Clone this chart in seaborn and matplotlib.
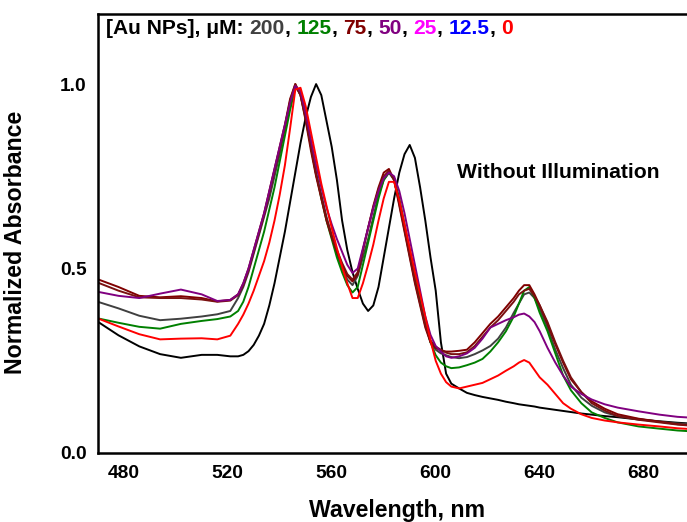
import numpy as np
import pandas as pd
import matplotlib
matplotlib.use("Agg")
import matplotlib.pyplot as plt
import seaborn as sns
from matplotlib.ticker import MultipleLocator, FormatStrFormatter
from matplotlib.offsetbox import TextArea, HPacker, AnchoredOffsetbox

# ---------------- data ----------------
wavelength = [470, 478, 486, 494, 502, 510, 516, 521, 524,
              526, 528, 530, 532, 534, 536, 538, 540, 542, 544,
              546, 548, 550, 552, 554, 556, 558, 560, 562, 564,
              566, 568, 570, 572, 574, 576, 578, 580, 582, 584,
              586, 588, 590, 592, 594, 596, 598, 600, 602, 604, 606,
              609, 612, 615, 618, 621, 624, 627, 630, 632, 634,
              636, 638, 640, 643, 646, 649, 652, 656, 660, 665,
              670, 678, 686, 693, 700]

abs_no_np = [0.356, 0.319, 0.289, 0.268, 0.258, 0.266, 0.266, 0.262, 0.262,
             0.266, 0.276, 0.293, 0.318, 0.35, 0.40, 0.46, 0.53, 0.60, 0.68,
             0.76, 0.84, 0.91, 0.965, 1.0, 0.97, 0.90, 0.83, 0.74, 0.63,
             0.55, 0.49, 0.445, 0.405, 0.385, 0.40, 0.45, 0.53, 0.61, 0.69,
             0.76, 0.81, 0.835, 0.80, 0.72, 0.63, 0.53, 0.44, 0.30, 0.215, 0.188,
             0.175, 0.163, 0.157, 0.152, 0.148, 0.144, 0.139, 0.135, 0.132, 0.130,
             0.128, 0.126, 0.123, 0.120, 0.117, 0.114, 0.111, 0.107, 0.104, 0.100,
             0.097, 0.091, 0.086, 0.082, 0.079]

abs_200 = [0.410, 0.392, 0.372, 0.360, 0.364, 0.370, 0.376, 0.385, 0.42,
           0.45, 0.49, 0.54, 0.59, 0.64, 0.69, 0.75, 0.81, 0.88, 0.95,
           0.995, 0.97, 0.91, 0.83, 0.755, 0.70, 0.64, 0.59, 0.54, 0.50,
           0.47, 0.455, 0.48, 0.53, 0.58, 0.64, 0.70, 0.74, 0.76, 0.74,
           0.68, 0.61, 0.54, 0.47, 0.41, 0.35, 0.30, 0.28, 0.27, 0.265, 0.26,
           0.257, 0.26, 0.268, 0.278, 0.29, 0.31, 0.34, 0.38, 0.405, 0.43,
           0.435, 0.42, 0.39, 0.34, 0.28, 0.23, 0.185, 0.15, 0.128, 0.11,
           0.10, 0.092, 0.085, 0.080, 0.077]

abs_125 = [0.365, 0.353, 0.342, 0.337, 0.350, 0.358, 0.363, 0.370, 0.385,
           0.41, 0.45, 0.50, 0.55, 0.60, 0.66, 0.72, 0.79, 0.86, 0.93,
           0.99, 0.98, 0.92, 0.84, 0.76, 0.69, 0.63, 0.58, 0.53, 0.49,
           0.455, 0.435, 0.45, 0.51, 0.57, 0.63, 0.69, 0.74, 0.76, 0.745,
           0.69, 0.62, 0.55, 0.48, 0.41, 0.35, 0.30, 0.265, 0.245, 0.235, 0.23,
           0.232, 0.238, 0.245, 0.255, 0.275, 0.30, 0.33, 0.37, 0.405, 0.44,
           0.45, 0.42, 0.38, 0.33, 0.27, 0.21, 0.17, 0.135, 0.11, 0.095,
           0.083, 0.072, 0.066, 0.061, 0.058]

abs_75 = [0.471, 0.450, 0.426, 0.422, 0.425, 0.420, 0.411, 0.415, 0.43,
          0.46, 0.50, 0.55, 0.60, 0.65, 0.71, 0.77, 0.83, 0.89, 0.96,
          1.0, 0.97, 0.90, 0.82, 0.75, 0.69, 0.63, 0.585, 0.545, 0.51,
          0.48, 0.465, 0.485, 0.55, 0.61, 0.67, 0.72, 0.76, 0.77, 0.74,
          0.67, 0.60, 0.53, 0.46, 0.40, 0.34, 0.30, 0.285, 0.278, 0.275, 0.275,
          0.277, 0.28, 0.30, 0.325, 0.35, 0.37, 0.395, 0.42, 0.44, 0.455,
          0.455, 0.43, 0.40, 0.35, 0.295, 0.245, 0.20, 0.165, 0.14, 0.12,
          0.105, 0.093, 0.085, 0.078, 0.074]

abs_75b = [0.462, 0.440, 0.422, 0.420, 0.420, 0.416, 0.410, 0.413, 0.428,
           0.455, 0.495, 0.545, 0.595, 0.645, 0.705, 0.765, 0.825, 0.885, 0.955,
           1.0, 0.97, 0.905, 0.83, 0.755, 0.695, 0.635, 0.59, 0.55, 0.515,
           0.485, 0.47, 0.49, 0.55, 0.61, 0.665, 0.715, 0.75, 0.765, 0.74,
           0.675, 0.605, 0.535, 0.465, 0.405, 0.345, 0.305, 0.288, 0.28, 0.272, 0.268,
           0.268, 0.273, 0.29, 0.315, 0.34, 0.36, 0.385, 0.41, 0.43, 0.44,
           0.445, 0.425, 0.40, 0.355, 0.30, 0.25, 0.205, 0.165, 0.135, 0.115,
           0.10, 0.09, 0.083, 0.077, 0.073]

abs_50 = [0.437, 0.426, 0.420, 0.432, 0.443, 0.430, 0.412, 0.415, 0.43,
          0.46, 0.50, 0.55, 0.60, 0.65, 0.71, 0.77, 0.83, 0.89, 0.95,
          0.995, 0.98, 0.92, 0.85, 0.78, 0.72, 0.665, 0.62, 0.58, 0.545,
          0.51, 0.488, 0.50, 0.555, 0.61, 0.665, 0.71, 0.745, 0.76, 0.75,
          0.71, 0.65, 0.58, 0.51, 0.44, 0.37, 0.32, 0.29, 0.275, 0.262, 0.258,
          0.262, 0.27, 0.285, 0.31, 0.34, 0.35, 0.36, 0.368, 0.375, 0.378,
          0.37, 0.355, 0.33, 0.285, 0.245, 0.21, 0.18, 0.16, 0.145, 0.132,
          0.123, 0.113, 0.104, 0.098, 0.095]

abs_0 = [0.365, 0.343, 0.322, 0.308, 0.310, 0.311, 0.308, 0.318, 0.35,
         0.375, 0.405, 0.44, 0.48, 0.52, 0.57, 0.63, 0.70, 0.78, 0.88,
         0.985, 0.99, 0.94, 0.87, 0.80, 0.73, 0.67, 0.61, 0.555, 0.505,
         0.46, 0.42, 0.42, 0.46, 0.51, 0.565, 0.63, 0.69, 0.735, 0.735,
         0.685, 0.62, 0.555, 0.49, 0.43, 0.37, 0.305, 0.25, 0.215, 0.192, 0.18,
         0.175, 0.18, 0.185, 0.19, 0.20, 0.21, 0.223, 0.235, 0.245, 0.252,
         0.245, 0.225, 0.205, 0.185, 0.16, 0.135, 0.12, 0.105, 0.095, 0.088,
         0.083, 0.077, 0.072, 0.067, 0.064]

series_names = ["none", "200", "125", "75", "75b", "50", "0"]
series_values = [abs_no_np, abs_200, abs_125, abs_75, abs_75b, abs_50, abs_0]
series_colors = ["#000000", "#404040", "#008000", "#800000", "#7a1010", "#800080", "#ff0000"]

title_parts = ["[Au NPs], \u03bcM: ", "200", ", ", "125", ", ", "75", ", ", "50", ", ",
               "25", ", ", "12.5", ", ", "0"]
title_colors = ["#000000", "#404040", "#000000", "#008000", "#000000", "#800000", "#000000",
                "#800080", "#000000", "#ff00ff", "#000000", "#0000ff", "#000000", "#ff0000"]

x_ticks = [480, 520, 560, 600, 640, 680]
y_ticks = [0.0, 0.5, 1.0]

for v in series_values:
    assert len(v) == len(wavelength)

# ---------------- figure ----------------
sns.set_style("white")
plt.rcParams["font.family"] = ["Liberation Sans", "DejaVu Sans"]
plt.rcParams["font.weight"] = "bold"
plt.rcParams["axes.labelweight"] = "bold"
plt.rcParams["text.color"] = "black"
plt.rcParams["axes.labelcolor"] = "black"
plt.rcParams["xtick.color"] = "black"
plt.rcParams["ytick.color"] = "black"
plt.rcParams["lines.solid_joinstyle"] = "round"

fig = plt.figure(figsize=(6.87, 5.22), dpi=100)
ax = fig.add_axes([0.1422, 0.1322, 0.8705, 0.841])

rows = []
for name, vals in zip(series_names, series_values):
    for w, a in zip(wavelength, vals):
        rows.append({"Wavelength": w, "Absorbance": a, "series": name})
df = pd.DataFrame(rows)

sns.lineplot(data=df, x="Wavelength", y="Absorbance", hue="series",
             hue_order=series_names, palette=dict(zip(series_names, series_colors)),
             estimator=None, sort=False, legend=False, linewidth=1.4, ax=ax)

ax.set_xlim(470, 700)
ax.set_ylim(0, 1.19)
ax.set_xticks(x_ticks)
ax.set_yticks(y_ticks)
ax.xaxis.set_minor_locator(MultipleLocator(20))
ax.yaxis.set_minor_locator(MultipleLocator(0.25))
ax.yaxis.set_major_formatter(FormatStrFormatter("%.1f"))

for s in ax.spines.values():
    s.set_linewidth(1.8)
    s.set_color("black")

ax.tick_params(axis="both", which="major", direction="in", length=7, width=1.6,
               labelsize=13.8, colors="black")
ax.tick_params(axis="both", which="minor", direction="in", length=4, width=1.4)
ax.tick_params(axis="x", which="major", pad=9)
ax.tick_params(axis="y", which="major", pad=8)

ax.set_xlabel("Wavelength, nm", fontsize=16.7, fontweight="bold")
ax.set_ylabel("Normalized Absorbance", fontsize=16.7, fontweight="bold")
ax.xaxis.set_label_coords(0.5, -0.104)
ax.yaxis.set_label_coords(-0.118, 0.48)

children = [TextArea(t, textprops=dict(color=c, fontsize=15.1, fontweight="bold"))
            for t, c in zip(title_parts, title_colors)]
pack = HPacker(children=children, align="baseline", pad=0, sep=0)
anch = AnchoredOffsetbox(loc="upper left", child=pack, frameon=False, pad=0, borderpad=0,
                         bbox_to_anchor=(0.014, 0.988), bbox_transform=ax.transAxes)
ax.add_artist(anch)

ax.text(0.600, 0.640, "Without Illumination", transform=ax.transAxes,
        fontsize=15.2, fontweight="bold", ha="left", va="center")

fig.savefig("out.png", dpi=100)
